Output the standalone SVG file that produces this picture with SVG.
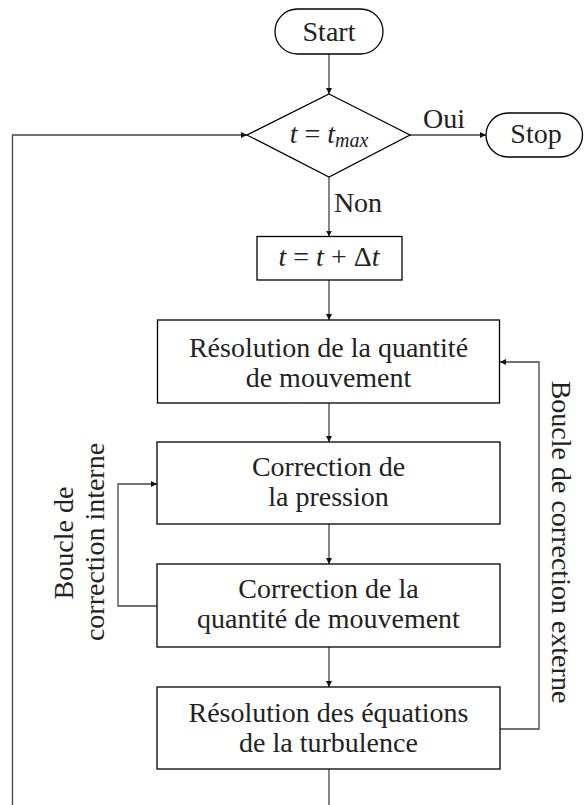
<svg xmlns="http://www.w3.org/2000/svg" width="584" height="805" viewBox="0 0 584 805">
  <style>
    .node { fill: #ffffff; stroke: #000000; stroke-width: 1.3; }
    .conn { fill: none; stroke: #444444; stroke-width: 1.3; }
  </style>
  <defs>
    <marker id="arr" markerUnits="userSpaceOnUse" markerWidth="8" markerHeight="8" refX="6" refY="3" orient="auto">
      <path d="M0,0 L6,3 L0,6 z" fill="#111111"/>
    </marker>
  </defs>
  <rect width="584" height="805" fill="#ffffff"/>

  <g id="connectors">
    <path class="conn" d="M329,54 V94" marker-end="url(#arr)"/>
    <path class="conn" d="M410,135 H486" marker-end="url(#arr)"/>
    <path class="conn" d="M329,177 V236.5" marker-end="url(#arr)"/>
    <path class="conn" d="M329,280 V320" marker-end="url(#arr)"/>
    <path class="conn" d="M329,403 V442" marker-end="url(#arr)"/>
    <path class="conn" d="M329,524 V564" marker-end="url(#arr)"/>
    <path class="conn" d="M329,647 V687" marker-end="url(#arr)"/>
    <path class="conn" d="M329,769 V805"/>
    <path class="conn" d="M157,606 H118 V484 H157" marker-end="url(#arr)"/>
    <path class="conn" d="M500,729 H539 V362 H500" marker-end="url(#arr)"/>
    <path class="conn" d="M12.5,805 V135 H247" marker-end="url(#arr)"/>
  </g>

  <g font-family="Liberation Serif" font-size="28" fill="#222222" text-anchor="middle">
    <g id="edge-labels">
      <text x="444" y="128">Oui</text>
      <text x="358" y="212">Non</text>
    </g>

    <g id="start">
      <rect class="node" x="275" y="9" width="108" height="45" rx="22.5" ry="22.5"/>
      <text x="329" y="41">Start</text>
    </g>

    <g id="decision">
      <polygon class="node" points="329,94 410,135 329,177 247,135"/>
      <text x="329" y="143"><tspan font-style="italic">t</tspan> = <tspan font-style="italic">t</tspan><tspan font-style="italic" font-size="20" dy="4">max</tspan></text>
    </g>

    <g id="stop">
      <rect class="node" x="486" y="113" width="96.5" height="44" rx="22" ry="22"/>
      <text x="536" y="143">Stop</text>
    </g>

    <g id="increment">
      <rect class="node" x="257" y="236.5" width="145" height="43.5"/>
      <text x="329" y="266"><tspan font-style="italic">t</tspan> = <tspan font-style="italic">t</tspan> + Δ<tspan font-style="italic">t</tspan></text>
    </g>

    <g id="momentum">
      <rect class="node" x="157.5" y="320" width="342" height="83"/>
      <text x="328.5" y="357">Résolution de la quantité</text>
      <text x="328.5" y="387">de mouvement</text>
    </g>

    <g id="pressure">
      <rect class="node" x="157" y="442" width="343" height="82"/>
      <text x="328.5" y="476">Correction de</text>
      <text x="328.5" y="506">la pression</text>
    </g>

    <g id="velocity">
      <rect class="node" x="157" y="564" width="343" height="83"/>
      <text x="328.5" y="598">Correction de la</text>
      <text x="328.5" y="628">quantité de mouvement</text>
    </g>

    <g id="turbulence">
      <rect class="node" x="157" y="687" width="343" height="82"/>
      <text x="328.5" y="722">Résolution des équations</text>
      <text x="328.5" y="752">de la turbulence</text>
    </g>

    <g id="inner-label">
      <text transform="translate(73,543) rotate(-90)">Boucle de</text>
      <text transform="translate(104,542) rotate(-90)">correction interne</text>
    </g>

    <g id="outer-label">
      <text transform="translate(552,542) rotate(90)">Boucle de correction externe</text>
    </g>
  </g>
</svg>
